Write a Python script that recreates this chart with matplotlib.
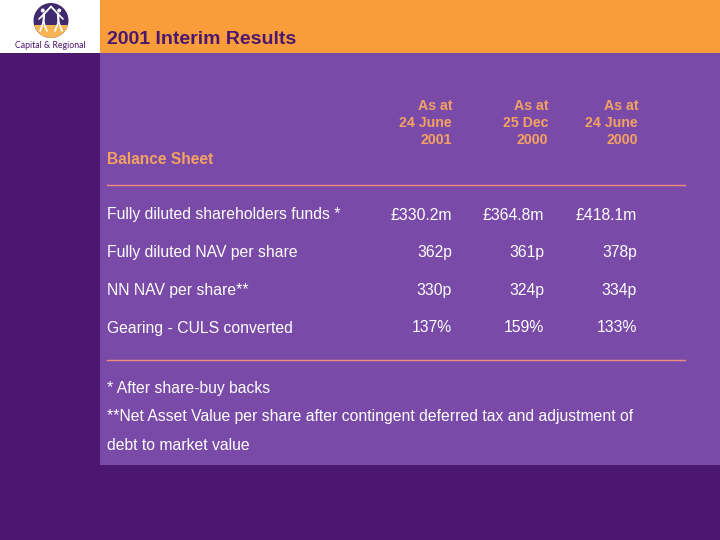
import matplotlib
matplotlib.use("Agg")
import matplotlib.pyplot as plt
from matplotlib.patches import Rectangle, Circle

plt.rcParams['font.family'] = ['Liberation Sans', 'DejaVu Sans']

# ---- data ----
title = "2001 Interim Results"
section = "Balance Sheet"
col_headers = ["As at\n24 June\n2001", "As at\n25 Dec\n2000", "As at\n24 June\n2000"]
row_labels = ["Fully diluted shareholders funds *",
              "Fully diluted NAV per share",
              "NN NAV per share**",
              "Gearing - CULS converted"]
col_jun01 = ["£330.2m", "362p", "330p", "137%"]
col_dec00 = ["£364.8m", "361p", "324p", "159%"]
col_jun00 = ["£418.1m", "378p", "334p", "133%"]
footnotes = ["* After share-buy backs",
             "**Net Asset Value per share after contingent deferred tax and adjustment of",
             "debt to market value"]
logo_text = "Capital & Regional"

# ---- style ----
DARK = "#4B176F"
PANEL = "#7A4AA8"
ORANGE = "#F99D3B"
TXT_OR = "#F3A262"
LINE = "#EE8C80"

fig = plt.figure(figsize=(7.2, 5.4), dpi=100)
fig.patch.set_facecolor(DARK)
ax = fig.add_axes([0, 0, 1, 1])
ax.set_xlim(0, 720)
ax.set_ylim(540, 0)
ax.axis('off')

# panels
ax.add_patch(Rectangle((100, 53), 620, 412, facecolor=PANEL, edgecolor='none'))
ax.add_patch(Rectangle((100, 0), 620, 53, facecolor=ORANGE, edgecolor='none'))
ax.add_patch(Rectangle((0, 0), 100, 53, facecolor='white', edgecolor='none'))

# logo
circ = Circle((51, 20.5), 17.5, facecolor="#3F2A6E", edgecolor='none')
ax.add_patch(circ)
low = Rectangle((30, 25), 42, 18, facecolor="#F6B457", edgecolor='none')
ax.add_patch(low)
low.set_clip_path(circ)
for cx, s in [(44, -1), (58, 1)]:
    # body
    ax.plot([cx, cx + s * 0.5], [14, 22], color='white', lw=1.6, solid_capstyle='round')
    # head
    ax.add_patch(Circle((cx + s * 1.2, 10.5), 2.0, facecolor='white', edgecolor='none'))
    # arm to centre top
    ax.plot([cx, 51], [14, 6.5], color='white', lw=1.3, solid_capstyle='round')
    # outer arm
    ax.plot([cx, cx + s * 5], [14, 19], color='white', lw=1.2, solid_capstyle='round')
    # legs
    ax.plot([cx + s * 0.5, cx - s * 3], [22, 31], color='white', lw=1.2, solid_capstyle='round')
    ax.plot([cx + s * 0.5, cx + s * 4], [22, 31], color='white', lw=1.2, solid_capstyle='round')
ax.text(50, 45, logo_text, ha='center', va='center', fontsize=6.3,
        color=DARK, family=['Lato', 'DejaVu Sans'])

# title
ax.text(107, 39, title, ha='left', va='center', fontsize=14, fontweight='bold', color=DARK)

# column headers
hdr_x = [452, 548, 638]
for x, h in zip(hdr_x, col_headers):
    for j, line in enumerate(h.split("\n")):
        ax.text(x, 106 + 17 * j, line, ha='right', va='center', fontsize=10.2,
                fontweight='bold', color=TXT_OR)

ax.text(107, 159, section, ha='left', va='center', fontsize=11.2,
        fontweight='bold', color=TXT_OR)

ax.plot([107, 685], [185, 185], color=LINE, lw=1.0)
ax.plot([107, 685], [360, 360], color=LINE, lw=1.0)

row_y = [215, 252, 290, 328]
val_x = [452, 544, 637]
for y, lab in zip(row_y, row_labels):
    ax.text(107, y, lab, ha='left', va='center', fontsize=11.3, color='white')
for x, col in zip(val_x, [col_jun01, col_dec00, col_jun00]):
    for y, v in zip(row_y, col):
        ax.text(x, y, v, ha='right', va='center', fontsize=11.3, color='white')

for y, f in zip([388, 417, 445], footnotes):
    ax.text(107, y, f, ha='left', va='center', fontsize=11.3, color='white')

fig.savefig("out.png", dpi=100, facecolor=fig.get_facecolor())
